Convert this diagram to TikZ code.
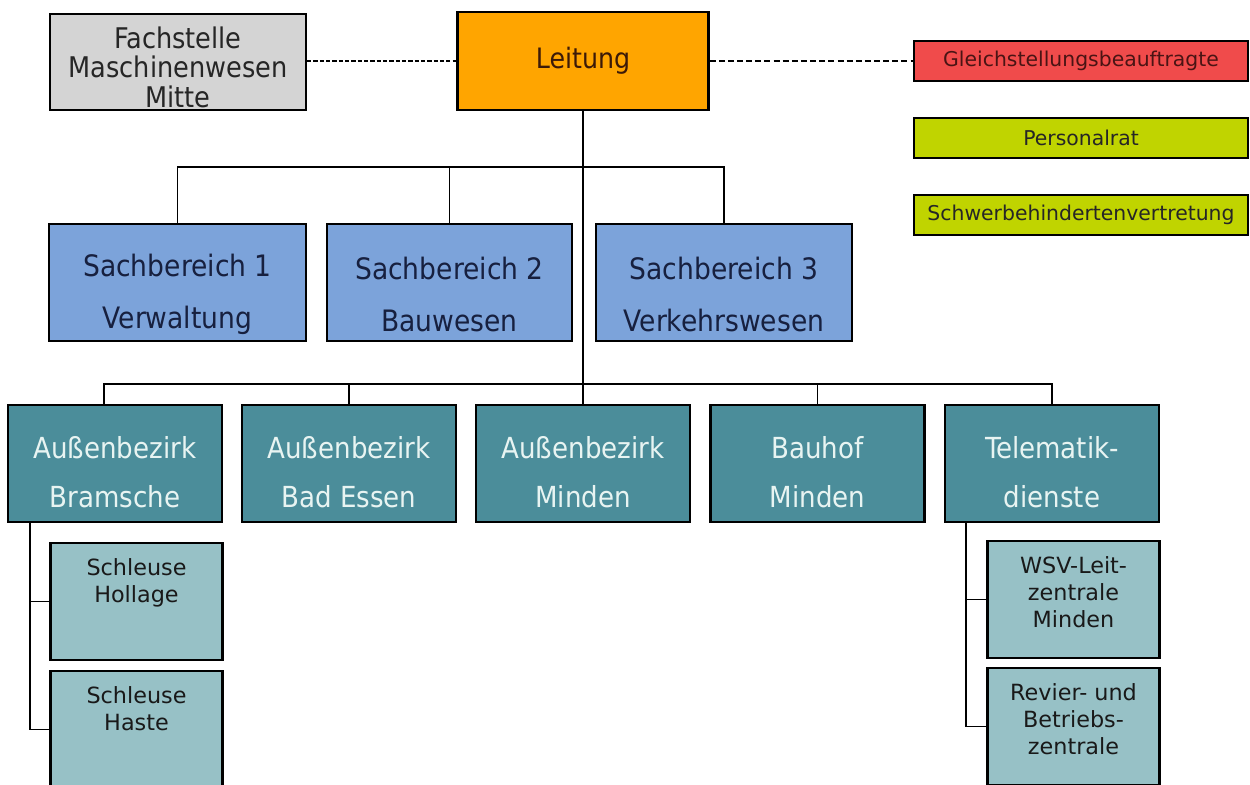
\documentclass[tikz,border=0pt]{standalone}
\usepackage{fontspec}
\setmainfont{DejaVu Sans}
\newfontfamily\condfont{DejaVu Sans Condensed}
\usetikzlibrary{positioning}
\definecolor{FachColor}{HTML}{D4D4D4}
\definecolor{LeitColor}{HTML}{FFA500}
\definecolor{LeitText}{HTML}{3C1A08}
\definecolor{GleichColor}{HTML}{F04B4B}
\definecolor{GleichText}{HTML}{4A1414}
\definecolor{GremiumColor}{HTML}{C0D400}
\definecolor{SachColor}{HTML}{7CA3DA}
\definecolor{SachText}{HTML}{17203F}
\definecolor{ABColor}{HTML}{4B8D9A}
\definecolor{ABText}{HTML}{E8F4F2}
\definecolor{SubColor}{HTML}{97C1C6}
% text block, pushed down inside its box
\newcommand{\boxtext}[3]{\parbox{#1}{\centering\vspace*{#2}#3}}
\newcommand{\subtext}[1]{\parbox[c][2.1cm][t]{3.2cm}{\vspace*{5.5pt}\centering #1}}

\begin{document}
\begin{tikzpicture}[
    x=0.02cm, y=-0.02cm,
    box/.style={rectangle, draw, line width=1.3pt, align=center, inner sep=0pt},
    fachbox/.style={box, fill=FachColor, text=black!85, minimum width=5.12cm, minimum height=1.92cm, font=\condfont\fontsize{16.2}{16.8}\selectfont},
    leitbox/.style={box, fill=LeitColor, text=LeitText, minimum width=5.02cm, minimum height=1.96cm, font=\condfont\fontsize{16}{17}\selectfont},
    gremiumbox/.style={box, fill=GremiumColor, text=black!85, minimum width=6.68cm, minimum height=0.8cm, font=\fontsize{11.6}{13}\selectfont},
    gleichbox/.style={gremiumbox, fill=GleichColor, text=GleichText},
    sachbox/.style={box, fill=SachColor, text=SachText, minimum height=2.34cm, font=\condfont\fontsize{16.8}{29.5}\selectfont},
    abbox/.style={box, fill=ABColor, text=ABText, minimum width=4.28cm, minimum height=2.34cm, font=\condfont\fontsize{16.5}{28}\selectfont},
    subbox/.style={box, fill=SubColor, text=black!90, minimum width=3.42cm, minimum height=2.34cm, inner sep=0.12cm, font=\fontsize{12.7}{15.4}\selectfont},
    conn/.style={line width=1.1pt},
    dotline/.style={line width=1.4pt, dash pattern=on 2.4pt off 1.2pt},
    dashline/.style={line width=0.9pt, dash pattern=on 3.4pt off 1.8pt}
]
\useasboundingbox (0,0) rectangle (1250,784);

%%%%%%%%%%%%%%%%%%%%%%%%%%%%%%%%%%%%%%%%%%%%%%%%%%%%%%%%%%%%%%%%%%%
% Leitung und Stabsstellen
%%%%%%%%%%%%%%%%%%%%%%%%%%%%%%%%%%%%%%%%%%%%%%%%%%%%%%%%%%%%%%%%%%%
\node[leitbox] (leitung) at (583,61) {Leitung};
\node[fachbox] (fachstelle) at (178,62) {\boxtext{4.9cm}{6pt}{Fachstelle\\Maschinenwesen\\Mitte}};

% Gremien (rechts)
\node[gleichbox] (gleich) at (1081,61) {Gleichstellungsbeauftragte};
\node[gremiumbox] (personalrat) at (1081,138) {Personalrat};
\node[gremiumbox] (schwerb) at (1081,215) {Schwerbehindertenvertretung};

%%%%%%%%%%%%%%%%%%%%%%%%%%%%%%%%%%%%%%%%%%%%%%%%%%%%%%%%%%%%%%%%%%%
% Sachbereiche
%%%%%%%%%%%%%%%%%%%%%%%%%%%%%%%%%%%%%%%%%%%%%%%%%%%%%%%%%%%%%%%%%%%
\node[sachbox, minimum width=5.14cm] (sb1) at (177.5,282.5) {\boxtext{4.6cm}{13.7pt}{Sachbereich 1\\Verwaltung}};
\node[sachbox, minimum width=4.9cm] (sb2) at (449.5,282.5) {\boxtext{4.6cm}{13.7pt}{Sachbereich 2\\Bauwesen}};
\node[sachbox, minimum width=5.12cm] (sb3) at (724,282.5) {\boxtext{4.6cm}{13.7pt}{Sachbereich 3\\Verkehrswesen}};

%%%%%%%%%%%%%%%%%%%%%%%%%%%%%%%%%%%%%%%%%%%%%%%%%%%%%%%%%%%%%%%%%%%
% Außenbezirke
%%%%%%%%%%%%%%%%%%%%%%%%%%%%%%%%%%%%%%%%%%%%%%%%%%%%%%%%%%%%%%%%%%%
\node[abbox] (ab1) at (115,463.5) {\boxtext{4.2cm}{9.7pt}{Außenbezirk\\Bramsche}};
\node[abbox] (ab2) at (349,463.5) {\boxtext{4.2cm}{9.7pt}{Außenbezirk\\Bad Essen}};
\node[abbox] (ab3) at (583,463.5) {\boxtext{4.2cm}{9.7pt}{Außenbezirk\\Minden}};
\node[abbox] (ab4) at (817.5,463.5) {\boxtext{4.2cm}{9.7pt}{Bauhof\\Minden}};
\node[abbox] (tele) at (1052,463.5) {\boxtext{4.2cm}{9.7pt}{Telematik-\\dienste}};

% Unterstellen
\node[subbox] (hollage) at (136.5,601.5) {\subtext{Schleuse\\Hollage}};
\node[subbox] (haste) at (136.5,729.5) {\subtext{Schleuse\\Haste}};
\node[subbox] (wsv) at (1073.5,599.5) {\subtext{WSV-Leit-\\zentrale\\Minden}};
\node[subbox] (revier) at (1073.5,726.5) {\subtext{Revier- und\\Betriebs-\\zentrale}};

%%%%%%%%%%%%%%%%%%%%%%%%%%%%%%%%%%%%%%%%%%%%%%%%%%%%%%%%%%%%%%%%%%%
% Verbindungen
%%%%%%%%%%%%%%%%%%%%%%%%%%%%%%%%%%%%%%%%%%%%%%%%%%%%%%%%%%%%%%%%%%%
\draw[dotline] (fachstelle.east |- leitung) -- (leitung);
\draw[dashline] (leitung) -- (gleich);

\draw[conn] (leitung) -- (ab3);

\coordinate (bar1) at (583,167);
\draw[conn] (sb1) |- (bar1) -| (sb3);
\draw[conn] (sb2) -- (sb2 |- bar1);

\coordinate (bar2) at (583,384);
\draw[conn] ([xshift=-0.22cm]ab1.north) |- (bar2) -| (tele);
\draw[conn] (ab2) -- (ab2 |- bar2);
\draw[conn] (ab4) -- (ab4 |- bar2);

% Unterstellen links
\coordinate (brL) at ([xshift=0.46cm]ab1.south west);
\draw[conn] (brL) |- (haste);
\draw[conn] (brL |- hollage.west) -- (hollage);

% Unterstellen rechts
\coordinate (brR) at ([xshift=0.44cm]tele.south west);
\draw[conn] (brR) |- (revier);
\draw[conn] (brR |- wsv.west) -- (wsv);

\end{tikzpicture}
\end{document}
